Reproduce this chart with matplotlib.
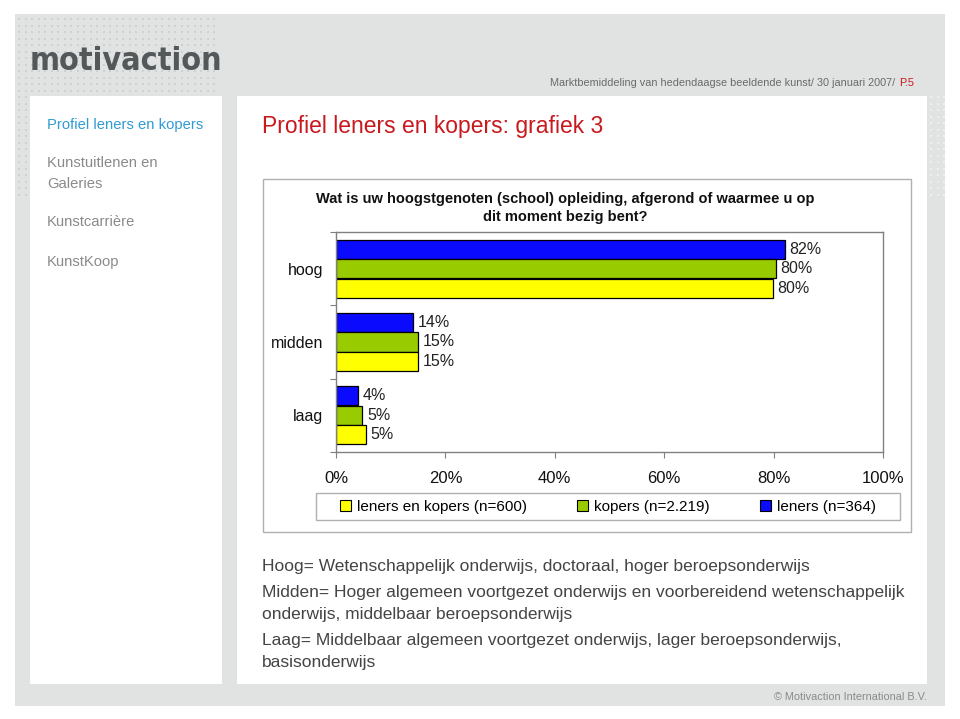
import matplotlib
matplotlib.use("Agg")
import matplotlib.pyplot as plt
from matplotlib.patches import Rectangle, Patch
import numpy as np

W, H = 960, 719
fig = plt.figure(figsize=(9.6, 7.19), dpi=100)

# ---- data ----
categories = ["laag", "midden", "hoog"]
leners = [4, 14, 82]
kopers = [4.8, 15, 80.4]
leners_en_kopers = [5.4, 15, 79.8]
series_names = ["leners en kopers (n=600)", "kopers (n=2.219)", "leners (n=364)"]
x_ticks = [0, 20, 40, 60, 80, 100]

narrow = ["Liberation Sans Narrow", "Liberation Sans", "DejaVu Sans"]
sans = ["Liberation Sans", "DejaVu Sans"]

# ---- background canvas ----
bg = fig.add_axes([0, 0, 1, 1], zorder=0)
bg.set_xlim(0, W)
bg.set_ylim(H, 0)
bg.axis("off")
bg.add_patch(Rectangle((15, 14), 930, 692, facecolor="#e1e2e2", edgecolor="none"))
# dot pattern
dx, dy = np.meshgrid(np.arange(19, 215, 6.5), np.arange(19, 95, 6.5))
bg.scatter(dx.ravel(), dy.ravel(), s=2.5, color="#cfd1d1", marker="s", lw=0)
lx, ly = np.meshgrid(np.arange(19, 29, 6.5), np.arange(97, 200, 6.5))
bg.scatter(lx.ravel(), ly.ravel(), s=2.5, color="#cfd1d1", marker="s", lw=0)
rx, ry = np.meshgrid(np.arange(931, 945, 6.5), np.arange(97, 200, 6.5))
bg.scatter(rx.ravel(), ry.ravel(), s=2.5, color="#eeeeee", marker="s", lw=0)
# white panels
bg.add_patch(Rectangle((30, 96), 192, 588, facecolor="white", edgecolor="none"))
bg.add_patch(Rectangle((237, 96), 690, 588, facecolor="white", edgecolor="none"))
# chart frame
bg.add_patch(Rectangle((263, 179), 648, 353, facecolor="white", edgecolor="#b0b0b0", lw=1))
# legend frame
bg.add_patch(Rectangle((316, 493), 584, 27, facecolor="white", edgecolor="#b0b0b0", lw=1))

# logo
bg.text(30, 62, "motivaction", fontsize=23, fontweight="bold", color="#53585a",
        family=["DejaVu Sans"], fontstretch="condensed", va="center", ha="left")

# top-right header
bg.text(898, 83, "Marktbemiddeling van hedendaagse beeldende kunst/ 30 januari 2007/ ",
        fontsize=7.8, color="#6a6a6a", family=sans, ha="right", va="center")
bg.text(899, 83, "P.5", fontsize=7.8, color="#c8191e", family=sans, ha="left", va="center")

# sidebar
bg.text(47, 125, "Profiel leners en kopers", fontsize=10.6, color="#2f9bd4", family=sans, va="center")
bg.text(47, 163, "Kunstuitlenen en", fontsize=10.6, color="#8a8a8a", family=sans, va="center")
bg.text(47, 184, "Galeries", fontsize=10.6, color="#8a8a8a", family=sans, va="center")
bg.text(47, 222, "Kunstcarrière", fontsize=10.6, color="#8a8a8a", family=sans, va="center")
bg.text(47, 262, "KunstKoop", fontsize=10.6, color="#8a8a8a", family=sans, va="center")

# page title
bg.text(262, 126, "Profiel leners en kopers: grafiek 3", fontsize=16.5, color="#c8191e",
        family=sans, va="center")

# chart title
bg.text(565, 208, "Wat is uw hoogstgenoten (school) opleiding, afgerond of waarmee u op\ndit moment bezig bent?",
        fontsize=10.5, fontweight="bold", color="#111111", family=narrow,
        ha="center", va="center", linespacing=1.45)

# footnotes
notes = [
    (566, "Hoog= Wetenschappelijk onderwijs, doctoraal, hoger beroepsonderwijs"),
    (592, "Midden= Hoger algemeen voortgezet onderwijs en voorbereidend wetenschappelijk"),
    (614, "onderwijs, middelbaar beroepsonderwijs"),
    (640, "Laag= Middelbaar algemeen voortgezet onderwijs, lager beroepsonderwijs,"),
    (662, "basisonderwijs"),
]
for yy, t in notes:
    bg.text(262, yy, t, fontsize=12.5, color="#444444", family=sans, va="center")

# copyright
bg.text(927, 697, "© Motivaction International B.V.", fontsize=7.8, color="#8a8a8a",
        family=sans, ha="right", va="center")

# ---- chart ----
ax = fig.add_axes([336 / W, 1 - 452 / H, 547 / W, 220 / H], zorder=2)
ax.set_facecolor("white")
y = np.arange(len(categories))
h = 0.26
off = 0.265
colors = {"blue": "#0a0aff", "green": "#99cc00", "yellow": "#ffff00"}
b_blue = ax.barh(y + off, leners, height=h, color=colors["blue"], edgecolor="black", lw=0.9)
b_green = ax.barh(y, kopers, height=h, color=colors["green"], edgecolor="black", lw=0.9)
b_yel = ax.barh(y - off, leners_en_kopers, height=h, color=colors["yellow"], edgecolor="black", lw=0.9)
for bars, vals in [(b_blue, leners), (b_green, kopers), (b_yel, leners_en_kopers)]:
    for bar, v in zip(bars, vals):
        ax.text(v + 0.9, bar.get_y() + bar.get_height() / 2, f"{v:.0f}%",
                fontsize=11.5, color="#222222", family=narrow, va="center", ha="left")

ax.set_xlim(0, 100)
ax.set_ylim(-0.5, 2.5)
ax.set_xticks(x_ticks)
ax.set_xticklabels([f"{t}%" for t in x_ticks], fontsize=12, family=narrow, color="#111111")
ax.tick_params(axis="x", direction="out", length=4, pad=10, color="#808080")
ax.set_yticks([-0.5, 0.5, 1.5, 2.5])
ax.set_yticklabels([])
ax.tick_params(axis="y", which="major", direction="out", length=4, color="#808080")
ax.set_yticks(y, minor=True)
ax.set_yticklabels(categories, minor=True, fontsize=11.5, family=narrow, color="#111111")
ax.tick_params(axis="y", which="minor", length=0, pad=9)
for s in ax.spines.values():
    s.set_color("#808080")
    s.set_linewidth(1)

handles = [Patch(facecolor=colors["yellow"], edgecolor="black", lw=0.8),
           Patch(facecolor=colors["green"], edgecolor="black", lw=0.8),
           Patch(facecolor=colors["blue"], edgecolor="black", lw=0.8)]
fig.legend(handles, series_names, loc="center", bbox_to_anchor=(608 / W, 1 - 506.5 / H),
           ncol=3, frameon=False, prop={"family": narrow, "size": 11},
           handlelength=0.7, handleheight=0.7, handletextpad=0.4, columnspacing=3.3)

fig.savefig("out.png", dpi=100)
